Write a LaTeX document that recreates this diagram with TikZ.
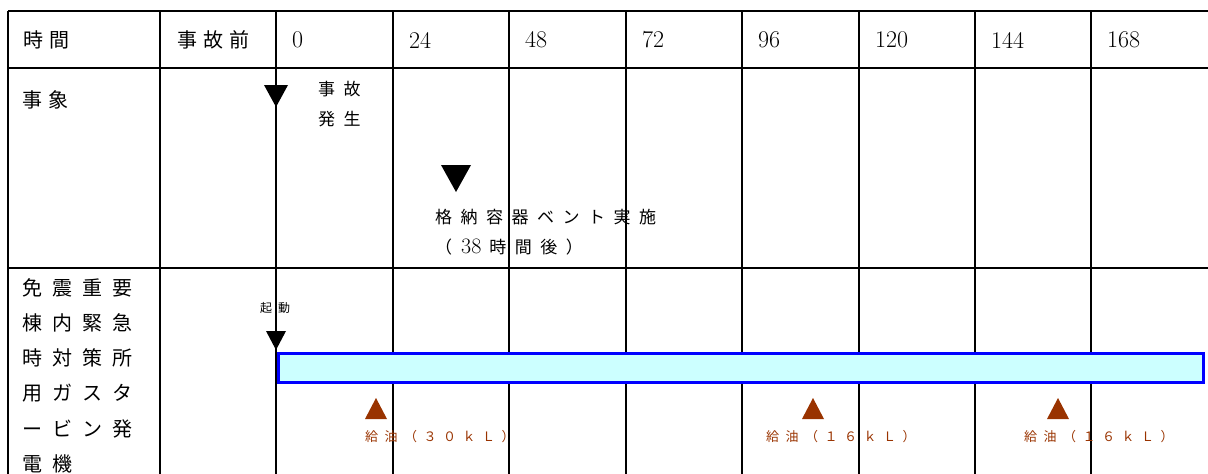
\documentclass[tikz,border=0pt]{standalone}
\usepackage{fontspec}
\usepackage{tikz}
\usetikzlibrary{positioning}
\newfontfamily\jpfont{Noto Sans CJK JP}
\newfontfamily\jpmid[LetterSpace=30]{Noto Sans CJK JP}
\newfontfamily\jpwide[LetterSpace=50]{Noto Sans CJK JP}
\definecolor{oilbrown}{RGB}{153,51,0}
\definecolor{barfill}{RGB}{204,255,255}

\begin{document}
\begin{tikzpicture}[
            x=1pt, y=-1pt, % work in pixel units of the original chart
            rule/.style={line width=2pt}, % table rules
            cell/.style={anchor=west, inner sep=0pt, font=\jpmid\fontsize{20}{24}\selectfont}, % cell text
            hour/.style={anchor=west, inner sep=0pt, font=\addfontfeature{LetterSpace=8}\fontsize{24}{26}\selectfont}, % hour digits
            event/.style={anchor=west, inner sep=0pt, align=left, font=\jpwide\fontsize{17}{30}\selectfont}, % event text
            oil/.style={anchor=west, inner sep=0pt, text=oilbrown, font=\jpwide\fontsize{13}{16}\selectfont} % refuel text
            ]
        \useasboundingbox (0,0) rectangle (1208,474);

        % table rules
        \foreach \y in {11,68,268}
            \draw[rule] (8,\y) -- (1208,\y);
        \foreach \x in {8,160,276,393,509,626,742,859,975,1091}
            \draw[rule] (\x,11) -- (\x,474);

        % header row
        \node[cell] (time) at (23,40) {時間};
        \node[cell] (before) at (177,40) {事故前};
        \foreach \x/\h in {276/0,393/24,509/48,626/72,742/96,859/120,975/144,1091/168}
            \node[hour] (hour\h) at (\x+16,40) {\h};

        % events row
        \node[cell] (events) at (22,100) {事象};
        \fill (276,107) -- ++(-12,-22) -- ++(24,0) -- cycle;
        \node[event] (accident) at (318,104) {事故\\発生};
        \fill (456,192) -- ++(-15,-27) -- ++(30,0) -- cycle;
        \node[event] (vent) at (435,232) {格納容器ベント実施\\（\hspace{9pt}{\rmfamily\addfontfeature{LetterSpace=10}\fontsize{22}{30}\selectfont 38}\hspace{8pt}時間後）};

        % gas turbine row
        \node[anchor=north west, inner sep=0pt, align=left, font=\jpwide\fontsize{20}{35.3}\selectfont] (turbine) at (22,278)
            {免震重要\\棟内緊急\\時対策所\\用ガスタ\\ービン発\\電機};
        \node[anchor=west, inner sep=0pt, font=\jpwide\fontsize{12}{14}\selectfont] (start) at (260,308) {起動};
        \fill (276,350) -- ++(-10,-19) -- ++(20,0) -- cycle;
        \draw[blue, line width=3pt, fill=barfill] (278,353) rectangle (1203,382);

        % refuelling marks
        \foreach \x/\tx/\t/\n in {376/365/３０/1,813/766/１６/2,1058/1024/１６/3} {
            \fill[oilbrown] (\x,398) -- ++(-11,21) -- ++(22,0) -- cycle;
            \node[oil] (oil\n) at (\tx,437) {給油（\t ｋＬ）};
        }

\end{tikzpicture}
\end{document}
